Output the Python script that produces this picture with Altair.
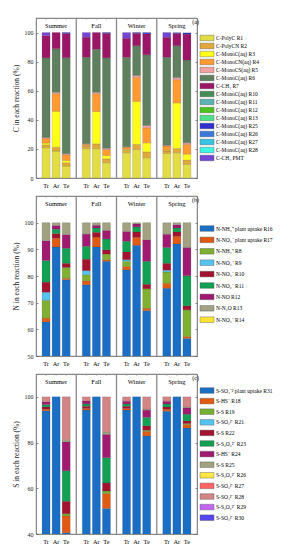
import altair as alt
import pandas as pd

SERIF = "Liberation Serif"

seasons = ["Summer", "Fall", "Winter", "Spring"]
sites = ["Tr", "Ar", "Te"]

# ---------- panel (a): carbon ----------
c_labels = ["C-PolyC R1", "C-PolyCN R2", "C-MonoC(aq) R3", "C-MonoCN(aq) R4",
            "C-MonoCS(aq) R5", "C-MonoC(aq) R6", "C-CH₄ R7", "C-MonoC(aq) R10",
            "C-MonoC(aq) R11", "C-MonoC(aq) R12", "C-MonoC(aq) R13", "C-MonoC(aq) R25",
            "C-MonoC(aq) R26", "C-MonoC(aq) R27", "C-MonoC(aq) R28", "C-CH₄ PMT"]
c_colors = ["#e3dd45", "#e0a93a", "#ffff1a", "#ff9a33", "#f2a0a0", "#5e805e",
            "#9c1668", "#468c58", "#5ab4b4", "#4cc21e", "#4ee08a", "#2f2fd0",
            "#3a78dc", "#35c4e6", "#3ff5e5", "#7446d6"]
# order of 12 values: Summer Tr/Ar/Te, Fall Tr/Ar/Te, Winter Tr/Ar/Te, Spring Tr/Ar/Te
c_r1 = [20.8, 18.5, 8.2, 20.1, 20.1, 10.5, 17.4, 19.6, 13.9, 16.9, 17.4, 9.4]
c_r2 = [2.0, 2.7, 2.3, 1.8, 3.4, 2.7, 1.5, 3.5, 4.1, 1.6, 2.9, 2.9]
c_r3 = [1.2, 24.7, 1.6, 0.3, 22.2, 2.3, 0.5, 29.6, 6.2, 0.5, 31.3, 4.1]
c_r4 = [3.4, 12.1, 3.9, 1.0, 12.3, 4.1, 1.8, 16.5, 10.3, 3.0, 16.0, 6.7]
c_r5 = [0.5, 0.9, 0.7, 0.3, 0.9, 0.9, 0.3, 1.3, 1.6, 0.5, 1.4, 1.1]
c_r6 = [54.7, 29.9, 65.9, 59.5, 29.7, 62.1, 61.4, 20.4, 48.6, 60.5, 21.9, 56.9]
c_r7 = [15.3, 11.2, 16.7, 13.8, 11.4, 16.9, 13.2, 8.6, 14.4, 13.8, 8.5, 17.8]
c_r25 = [0.0, 0.0, 0.7, 0.0, 0.0, 0.5, 0.0, 0.5, 0.9, 0.0, 0.5, 0.9]
c_pmt = [2.1, 0.0, 0.0, 3.2, 0.0, 0.0, 3.9, 0.0, 0.0, 3.2, 0.0, 0.0]
c_series = [("C-PolyC R1", c_r1), ("C-PolyCN R2", c_r2), ("C-MonoC(aq) R3", c_r3),
            ("C-MonoCN(aq) R4", c_r4), ("C-MonoCS(aq) R5", c_r5), ("C-MonoC(aq) R6", c_r6),
            ("C-CH₄ R7", c_r7), ("C-MonoC(aq) R25", c_r25), ("C-CH₄ PMT", c_pmt)]

# ---------- panel (b): nitrogen ----------
n_labels = ["N-NH₄⁺ plant uptake R16", "N-NO₃⁻ plant uptake R17", "N-NH₄⁺ R8",
            "N-NO₂⁻ R9", "N-NO₃⁻ R10", "N-NO₂⁻ R11", "N-NO R12", "N-N₂O R13", "N-NO₃⁻ R14"]
n_colors = ["#1a6fc4", "#e05a14", "#7fb032", "#55c3f0", "#a3122e", "#12a052",
            "#a01a72", "#a2a282", "#ffe533"]
n_r16 = [62.8, 90.9, 78.6, 76.7, 90.9, 85.5, 82.3, 91.5, 67.0, 75.4, 92.0, 56.6]
n_r17 = [1.4, 3.3, 0.6, 1.5, 3.7, 0.6, 1.3, 3.0, 0.9, 1.9, 2.9, 0.7]
n_r8 = [6.7, 0.0, 4.0, 2.3, 0.0, 2.1, 1.9, 0.0, 7.3, 4.2, 0.0, 10.0]
n_r9 = [3.0, 0.0, 0.0, 1.5, 0.0, 0.0, 0.6, 0.0, 0.0, 0.7, 0.0, 0.0]
n_r10 = [3.8, 1.7, 1.6, 4.3, 1.8, 1.6, 2.9, 2.0, 1.7, 2.6, 1.6, 1.5]
n_r11 = [8.1, 1.6, 5.6, 4.8, 1.6, 4.1, 4.0, 1.9, 8.6, 5.9, 1.5, 11.3]
n_r12 = [7.4, 1.4, 5.1, 4.6, 1.0, 3.2, 3.7, 1.1, 8.1, 5.0, 1.2, 10.6]
n_r13 = [6.8, 1.1, 4.5, 4.3, 1.0, 2.9, 3.3, 0.5, 6.4, 4.3, 0.8, 9.3]
n_series = [(n_labels[0], n_r16), (n_labels[1], n_r17), (n_labels[2], n_r8),
            (n_labels[3], n_r9), (n_labels[4], n_r10), (n_labels[5], n_r11),
            (n_labels[6], n_r12), (n_labels[7], n_r13)]

# ---------- panel (c): sulfur ----------
s_labels = ["S-SO₄⁻² plant uptake R31", "S-HS⁻ R18", "S-S R19", "S-SO₃²⁻ R21",
            "S-S R22", "S-S₂O₃²⁻ R23", "S-HS⁻ R24", "S-S R25", "S-S₂O₃²⁻ R26",
            "S-SO₃²⁻ R27", "S-SO₄²⁻ R28", "S-S₂O₃²⁻ R29", "S-SO₃²⁻ R30"]
s_colors = ["#1a6fc4", "#e05a14", "#76b032", "#55c3f0", "#a3122e", "#12a052",
            "#a01a72", "#a2a282", "#ffe545", "#ff6464", "#d38484", "#c266f2", "#5546f0"]
s_r31 = [93.9, 100.0, 40.6, 94.2, 100.0, 51.2, 94.2, 100.0, 82.9, 93.7, 100.0, 86.4]
s_r18 = [0.7, 0.0, 7.3, 0.7, 0.0, 6.5, 0.7, 0.0, 2.0, 0.9, 0.0, 1.5]
s_r19 = [0.0, 0.0, 1.0, 0.0, 0.0, 1.1, 0.0, 0.0, 0.5, 0.0, 0.0, 0.4]
s_r22 = [1.0, 0.0, 5.4, 1.0, 0.0, 3.5, 1.0, 0.0, 1.9, 1.0, 0.0, 1.2]
s_r23 = [1.0, 0.0, 13.4, 1.0, 0.0, 11.1, 1.0, 0.0, 3.7, 1.3, 0.0, 2.9]
s_r24 = [1.2, 0.0, 12.6, 1.3, 0.0, 10.2, 1.2, 0.0, 3.2, 1.2, 0.0, 2.8]
s_r25 = [0.0, 0.0, 1.0, 0.0, 0.0, 1.1, 0.0, 0.0, 0.4, 0.0, 0.0, 0.4]
s_r28 = [2.2, 0.0, 18.7, 1.8, 0.0, 15.3, 1.9, 0.0, 5.4, 1.9, 0.0, 4.4]
s_series = [(s_labels[0], s_r31), (s_labels[1], s_r18), (s_labels[2], s_r19),
            (s_labels[4], s_r22), (s_labels[5], s_r23), (s_labels[6], s_r24),
            (s_labels[7], s_r25), (s_labels[10], s_r28)]

W, H = 161, 160
RECT = "M-2,-0.8L2,-0.8L2,0.8L-2,0.8Z"


def long_table(series, labels):
    rows = []
    for label, vals in series:
        for i, v in enumerate(vals):
            if v > 0:
                rows.append({"season": seasons[i // 3], "site": sites[i % 3],
                             "comp": label, "k": labels.index(label), "value": v})
    return pd.DataFrame(rows)


def panel(series, labels, colors, ydom, yticks, ytitle, tag, leg_y, row_pad):
    df = long_table(series, labels)
    xscale = alt.Scale(domain=seasons, paddingInner=0, paddingOuter=0)
    x_enc = alt.X("season:N", sort=seasons, scale=xscale, axis=None)
    xo = alt.XOffset("site:N", sort=sites,
                     scale=alt.Scale(domain=sites, paddingInner=0.2, paddingOuter=0.6))
    yscale = alt.Scale(domain=ydom, nice=False, zero=False)

    bars = alt.Chart(df).mark_bar(clip=True, stroke="#333333", strokeWidth=0.3,
                                  strokeOpacity=0.5).encode(
        x=x_enc, xOffset=xo,
        y=alt.Y("value:Q", stack="zero", scale=yscale,
                axis=alt.Axis(values=yticks, title=ytitle, grid=False, domain=False,
                              tickSize=2, offset=-2, labelPadding=3, titlePadding=4)),
        color=alt.Color("comp:N", scale=alt.Scale(domain=labels, range=colors),
                        legend=alt.Legend(title=None, orient="none", legendX=167,
                                          legendY=leg_y, symbolType=RECT, symbolSize=49,
                                          symbolStrokeWidth=0.4, symbolStrokeColor="#555555",
                                          labelFont=SERIF, labelFontSize=5.5, labelLimit=200,
                                          rowPadding=row_pad, labelOffset=5, padding=0)),
        order=alt.Order("k:Q", sort="ascending"),
    )
    right_axis = alt.Chart(df).mark_point(opacity=0).encode(
        y=alt.Y("value:Q", scale=yscale,
                axis=alt.Axis(orient="right", labels=False, title=None, values=yticks,
                              grid=False, domain=False, tickSize=2, offset=-2)))
    seps = alt.Chart(pd.DataFrame({"season": seasons[1:]})).mark_rule(
        color="#8a8a8a", strokeWidth=1.3).encode(
        x=alt.X("season:N", sort=seasons, scale=xscale, axis=None, bandPosition=0),
        y=alt.value(0), y2=alt.value(H))
    grid = pd.DataFrame([{"season": s, "site": t} for s in seasons for t in sites])
    ticks = alt.Chart(grid).mark_rule(color="#999999", strokeWidth=0.6).encode(
        x=x_enc, xOffset=xo, y=alt.value(0), y2=alt.value(2))
    site_txt = alt.Chart(grid).mark_text(font=SERIF, fontSize=6.3, baseline="middle").encode(
        x=x_enc, xOffset=xo, y=alt.value(H + 8), text="site:N")
    season_txt = alt.Chart(pd.DataFrame({"season": seasons})).mark_text(
        font=SERIF, fontSize=6.5, baseline="middle").encode(
        x=x_enc, y=alt.value(8), text="season:N")
    tag_txt = alt.Chart(pd.DataFrame({"t": [tag]})).mark_text(
        font=SERIF, fontSize=6, align="right", baseline="middle").encode(
        x=alt.value(W + 2), y=alt.value(4), text="t:N")
    return alt.layer(bars, right_axis, seps, ticks, site_txt, season_txt, tag_txt).resolve_axis(
        y="independent").properties(width=W, height=H)


pa = panel(c_series, c_labels, c_colors, [0, 110], [0, 20, 40, 60, 80, 100],
           "C in each reaction (%)", "(a)", 16, 0)
pb = panel(n_series, n_labels, n_colors, [50, 110], [50, 60, 70, 80, 90, 100],
           "N in each reaction (%)", "(b)", 28.5, 3.4)
pc = panel(s_series, s_labels, s_colors, [40, 110], [40, 60, 80, 100],
           "S in each reaction (%)", "(c)", 12.5, 2.6)

chart = alt.vconcat(pa, pb, pc, spacing=18, bounds="flush").resolve_scale(
    color="independent", x="independent", y="independent", xOffset="independent"
).properties(
    padding={"left": 3, "top": 8, "right": 0, "bottom": 0}
).configure_view(stroke="#444444", strokeWidth=0.8).configure_axis(
    labelFont=SERIF, titleFont=SERIF, labelFontSize=6, titleFontSize=7.5,
    titleFontWeight="normal", labelColor="#222222", titleColor="#222222",
    tickColor="#444444", tickWidth=0.6
)

chart.save("out.html", embed_options={"renderer": "svg", "actions": False})
